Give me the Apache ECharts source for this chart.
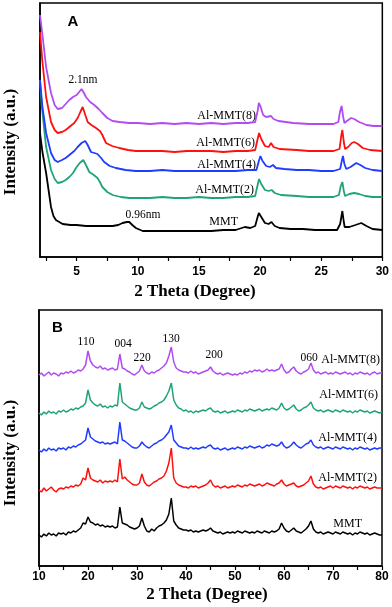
<!DOCTYPE html>
<html><head><meta charset="utf-8">
<script src="https://cdn.jsdelivr.net/npm/echarts@6/dist/echarts.min.js"></script>
<style>html,body{margin:0;padding:0;background:#fff}#c{width:392px;height:607px}</style>
</head><body><div id="c"></div>
<script>
// ---- data ----
const seriesNamesA = ['MMT', 'Al-MMT(2)', 'Al-MMT(4)', 'Al-MMT(6)', 'Al-MMT(8)'];
const seriesColorsA = ['#000000', '#1fa47a', '#1f3cff', '#ff1010', '#b04cf0'];
const seriesNamesB = ['MMT', 'Al-MMT(2)', 'Al-MMT(4)', 'Al-MMT(6)', 'Al-MMT(8)'];
const seriesColorsB = ['#000000', '#ff1010', '#1f3cff', '#1fa47a', '#b04cf0'];

// Panel A: [2theta, displayed intensity]
const pA0 = [[2.0,124],[2.2,105],[2.5,84],[2.9,50],[3.1,41],[3.3,37],[3.85,33],[4.5,32],[5.0,32],[5.76,31],[6.5,31],[7.2,31],[7.94,31],[8.4,32],[8.75,34],[9.1,35],[9.3,35],[9.55,32],[9.84,29],[10.4,26],[11,26],[12,26],[13,26],[14,26],[15,26],[16,26],[17,27],[18,27],[18.75,30],[19.2,29],[19.6,31],[19.8,40],[19.9,44],[20.1,40],[20.4,34],[20.7,33],[20.93,35],[21.2,31],[21.6,29],[22.5,28],[23.5,28],[24.5,27],[25.5,27],[26.3,27],[26.55,33],[26.73,46],[26.85,35],[26.92,30],[27.3,30],[27.8,32],[28.28,34],[28.7,31],[29.2,28],[30,27]];
const pA2 = [[2.0,177],[2.15,150],[2.5,110],[2.9,87],[3.2,78],[3.45,74],[3.8,75],[4.1,77],[4.4,80],[4.7,84],[4.94,89],[5.25,94],[5.54,97],[5.8,91],[6.03,85],[6.4,82],[6.7,79],[6.9,75],[7.1,70],[7.5,65],[7.94,62],[8.6,60],[9.3,59],[10,59],[11,59],[12,60],[13,59],[14,59],[15,60],[16,59],[17,59],[18,60],[19,60],[19.6,61],[19.8,72],[19.92,78],[20.1,73],[20.4,67],[20.7,66],[20.95,67],[21.2,64],[21.7,62],[23,61],[24,60],[25,60],[26,60],[26.45,62],[26.6,71],[26.73,75],[26.85,66],[26.95,61],[27.3,63],[27.7,64],[28.1,63],[28.6,61],[29.2,60],[30,60]];
const pA4 = [[2.0,177],[2.2,150],[2.5,124],[2.9,104],[3.2,97],[3.45,95],[3.8,97],[4.1,99],[4.4,102],[4.8,106],[5.08,110],[5.4,114],[5.7,116],[5.9,112],[6.17,105],[6.45,104],[6.7,103],[7.0,99],[7.25,95],[7.7,91],[8.2,89],[9,87],[9.84,86],[11,86],[12,87],[13,86],[14,86],[15,86],[16,86],[17,86],[18,86],[19,87],[19.7,87],[19.9,96],[20.03,101],[20.2,96],[20.5,91],[20.8,90],[21.06,92],[21.3,89],[22,88],[23,87],[24,87],[25,86],[26,86],[26.55,88],[26.7,97],[26.78,101],[26.9,93],[27.05,88],[27.4,90],[27.87,94],[28.2,92],[28.6,89],[29.2,87],[30,86]];
const pA6 = [[2.0,225],[2.2,195],[2.5,160],[2.9,135],[3.2,127],[3.45,124],[3.8,125],[4.1,127],[4.4,130],[4.8,134],[5.08,139],[5.3,145],[5.49,150],[5.65,144],[5.9,135],[6.2,132],[6.58,129],[6.9,126],[7.1,122],[7.4,114],[7.9,111],[8.48,109],[9.2,107],[9.84,106],[11,106],[12,106],[13,105],[14,106],[15,106],[16,106],[17,105],[18,106],[19,106],[19.6,107],[19.8,118],[19.92,124],[20.1,118],[20.4,111],[20.7,110],[20.9,114],[21.1,110],[21.6,108],[23,107],[24,106],[25,106],[26,106],[26.5,108],[26.65,122],[26.73,127],[26.85,115],[26.95,108],[27.2,110],[27.5,114],[27.7,115],[28.0,113],[28.4,109],[29,107],[30,106]];
const pA8 = [[2.0,242],[2.2,222],[2.5,190],[2.9,164],[3.2,152],[3.45,148],[3.8,149],[4.1,153],[4.4,157],[4.7,160],[5.0,162],[5.2,165],[5.4,168],[5.55,165],[5.76,160],[6.1,155],[6.44,152],[6.8,148],[7.1,144],[7.5,139],[7.94,136],[8.5,135],[9.3,134],[10,134],[11,133],[12,134],[13,133],[14,134],[15,133],[16,134],[17,133],[18,134],[19,134],[19.6,135],[19.8,146],[19.9,154],[20.05,150],[20.25,142],[20.5,140],[20.9,141],[21.1,138],[21.5,136],[22.7,134],[24,133],[25,133],[26,133],[26.4,135],[26.55,146],[26.67,151],[26.8,140],[26.9,134],[27.1,136],[27.45,139],[27.7,138],[28.1,135],[28.7,132],[29.3,131],[30,131]];

// Panel B: scan grid 10..80 step 0.5, displayed intensities
const xB = Array.from({length: 141}, (_, i) => 10 + 0.5 * i);
const pB0 = [31,29,32,30,33,31,32,30,33,32, 33,31,34,33,35,34,36,38,43,42, 49,44,43,41,42,40,41,39,40,39, 40,38,39,59,43,42,41,39,38,37,
  38,40,48,40,35,34,37,35,38,40, 41,43,46,52,68,45,41,38,37,36, 36,35,36,34,35,34,35,36,35,36, 38,35,34,33,34,32,33,34,33,34,
  33,35,34,33,35,34,33,34,33,35, 34,33,35,34,33,35,34,35,37,43, 38,35,34,36,38,35,34,33,35,37, 40,45,37,34,33,34,32,33,34,33,
  32,34,33,32,34,33,32,33,31,33, 32,34,33,32,33,31,32,33,32,31, 31];
const pB2 = [76,74,78,75,77,79,76,74,77,78, 77,79,78,80,79,81,80,82,88,86, 98,88,86,85,84,86,83,85,84,85, 84,86,84,107,87,89,86,84,82,81,
  81,83,92,84,81,80,82,84,85,87, 88,90,95,103,118,88,83,81,80,79, 79,78,80,79,80,78,79,80,81,83, 86,81,79,80,78,79,80,78,79,80,
  79,81,80,79,81,80,82,81,80,81, 82,80,81,83,82,81,80,82,83,86, 82,80,81,82,83,80,79,80,81,83, 85,90,82,79,78,79,77,78,79,80,
  78,80,79,78,80,79,78,79,77,79, 78,80,79,78,79,77,78,79,78,78, 78];
const pB4 = [116,114,117,115,118,116,117,115,118,117, 118,116,119,118,120,119,121,122,124,126, 138,129,127,125,124,123,124,122,123,122, 123,124,122,144,126,125,123,121,119,118,
  118,120,124,121,119,118,120,122,123,125, 126,128,131,134,141,126,123,120,119,118, 118,117,119,117,118,117,118,119,118,120, 121,118,117,118,116,117,118,116,117,118,
  117,119,118,117,119,118,120,119,118,119, 120,118,119,121,120,122,121,120,121,124, 120,118,119,121,124,121,119,118,120,122, 123,126,121,119,118,119,117,118,119,118,
  117,119,118,117,119,118,117,118,116,118, 117,119,118,117,118,116,117,118,117,118, 118];
const pB6 = [153,151,154,152,155,153,154,152,155,154, 156,154,155,157,156,158,157,159,160,163, 176,166,163,161,160,162,159,160,158,160, 159,161,160,183,164,162,160,158,157,156,
  156,158,164,159,158,157,158,160,161,163, 164,166,170,175,183,166,161,158,157,155, 156,154,155,153,155,154,155,156,155,157, 158,155,154,155,153,154,155,153,154,155,
  154,156,155,154,156,155,157,156,155,156, 157,155,156,157,156,158,157,156,158,163, 158,156,157,159,161,157,155,156,158,159, 161,164,158,156,155,156,154,155,156,155,
  154,156,155,154,156,155,154,155,153,155, 154,156,155,154,155,153,154,155,154,153, 154];
const pB8 = [191,193,190,192,194,191,193,192,190,193, 192,194,193,195,193,194,196,195,197,201, 215,205,201,199,198,200,197,198,196,197, 198,196,197,212,198,197,195,194,192,191,
  193,195,201,195,193,192,194,193,195,196, 198,200,203,210,219,204,198,196,195,194, 194,193,195,193,194,192,193,194,195,196, 199,195,193,192,193,191,192,193,192,191,
  192,191,193,192,194,193,195,194,196,195, 196,194,195,197,195,196,195,196,197,202, 196,193,194,197,199,195,193,192,194,195, 197,203,196,193,194,192,193,194,192,193,
  192,194,193,192,193,194,192,193,191,193, 192,194,193,192,193,191,193,194,192,193, 193];

const ticksA = [2.5,5,7.5,10,12.5,15,17.5,20,22.5,25,27.5,30];
const labelsA = [5,10,15,20,25,30];
const labelsB = [10,20,30,40,50,60,70,80];
const peakLabelsB = ['110','004','220','130','200','060'];

// ---- chart ----
const chart = echarts.init(document.getElementById('c'), null, {renderer: 'canvas'});
const seriesA = [pA0, pA2, pA4, pA6, pA8];
const seriesB = [pB0, pB2, pB4, pB6, pB8];

const series = [];
seriesA.forEach((d, i) => series.push({
  type: 'line', xAxisIndex: 0, yAxisIndex: 0, data: d, showSymbol: false, smooth: false,
  lineStyle: {color: seriesColorsA[i], width: 1.8}, silent: true, name: seriesNamesA[i]
}));
seriesB.forEach((d, i) => series.push({
  type: 'line', xAxisIndex: 1, yAxisIndex: 1, data: xB.map((x, k) => [x, d[k]]), showSymbol: false,
  lineStyle: {color: seriesColorsB[i], width: 1.5}, silent: true, name: seriesNamesB[i] + ' B'
}));

const serif = '"Liberation Serif", "Times New Roman", serif';
const sans = '"Liberation Sans", Arial, sans-serif';
function txt(text, x, y, font, align, rot) {
  return {type: 'text', x: x, y: y, rotation: rot || 0, silent: true,
    style: {text: text, font: font, fill: '#000', align: align || 'center', verticalAlign: 'middle',
      textAlign: align || 'center', textVerticalAlign: 'middle'}};
}
const labFont = '12px ' + serif;
const annFont = '11.5px ' + serif;
const graphics = [
  txt('A', 73, 22, 'bold 15px ' + sans),
  txt('2.1nm', 83, 80, annFont),
  txt('0.96nm', 143, 215, annFont),
  txt('Al-MMT(8)', 256, 116, labFont, 'right'),
  txt('Al-MMT(6)', 255, 143, labFont, 'right'),
  txt('Al-MMT(4)', 256, 165, labFont, 'right'),
  txt('Al-MMT(2)', 254, 190, labFont, 'right'),
  txt('MMT', 238, 222, labFont, 'right'),
  txt('Intensity (a.u.)', 11, 142, 'bold 17px ' + serif, 'center', Math.PI / 2),
  txt('2 Theta (Degree)', 195, 292, 'bold 17px ' + serif),
  txt('B', 57.5, 328, 'bold 15px ' + sans),
  txt(peakLabelsB[0], 86, 342, annFont),
  txt(peakLabelsB[1], 123, 344, annFont),
  txt(peakLabelsB[2], 142, 358, annFont),
  txt(peakLabelsB[3], 171, 339, annFont),
  txt(peakLabelsB[4], 214, 355, annFont),
  txt(peakLabelsB[5], 309, 358, annFont),
  txt('Al-MMT(8)', 380, 360, labFont, 'right'),
  txt('Al-MMT(6)', 378, 395, labFont, 'right'),
  txt('Al-MMT(4)', 377, 438, labFont, 'right'),
  txt('Al-MMT(2)', 377, 478, labFont, 'right'),
  txt('MMT', 362, 524, labFont, 'right'),
  txt('Intensity (a.u.)', 11, 453, 'bold 17px ' + serif, 'center', Math.PI / 2),
  txt('2 Theta (Degree)', 207, 595, 'bold 17px ' + serif)
];

const axisLine = {show: true, onZero: false, lineStyle: {color: '#000', width: 1.5}};
chart.setOption({
  animation: false,
  backgroundColor: '#fff',
  grid: [
    {left: 40, top: 3, width: 343, height: 254, show: true, borderColor: '#000', borderWidth: 1.5, containLabel: false},
    {left: 39, top: 310, width: 343, height: 256, show: true, borderColor: '#000', borderWidth: 1.5, containLabel: false}
  ],
  xAxis: [
    {type: 'value', gridIndex: 0, min: 2, max: 30, axisLine: axisLine, splitLine: {show: false},
      axisTick: {show: true, inside: false, length: 4, lineStyle: {color: '#000', width: 1.2}, customValues: ticksA},
      axisLabel: {customValues: labelsA, margin: 9, color: '#000', fontWeight: 'bold', fontSize: 12, fontFamily: sans}},
    {type: 'value', gridIndex: 1, min: 10, max: 80, interval: 5, axisLine: axisLine, splitLine: {show: false},
      axisTick: {show: true, inside: false, length: 4, lineStyle: {color: '#000', width: 1.2}},
      axisLabel: {margin: 5, color: '#000', fontWeight: 'bold', fontSize: 12, fontFamily: sans, showMaxLabel: true,
        formatter: v => (labelsB.indexOf(Math.round(v)) >= 0 && Math.abs(v - Math.round(v)) < 1e-6) ? String(Math.round(v)) : ''}}
  ],
  yAxis: [
    {type: 'value', gridIndex: 0, min: 0, max: 254, axisLine: axisLine, axisTick: {show: false}, axisLabel: {show: false}, splitLine: {show: false}},
    {type: 'value', gridIndex: 1, min: 0, max: 256, axisLine: axisLine, axisTick: {show: false}, axisLabel: {show: false}, splitLine: {show: false}}
  ],
  series: series,
  graphic: graphics
});
</script>
</body></html>
